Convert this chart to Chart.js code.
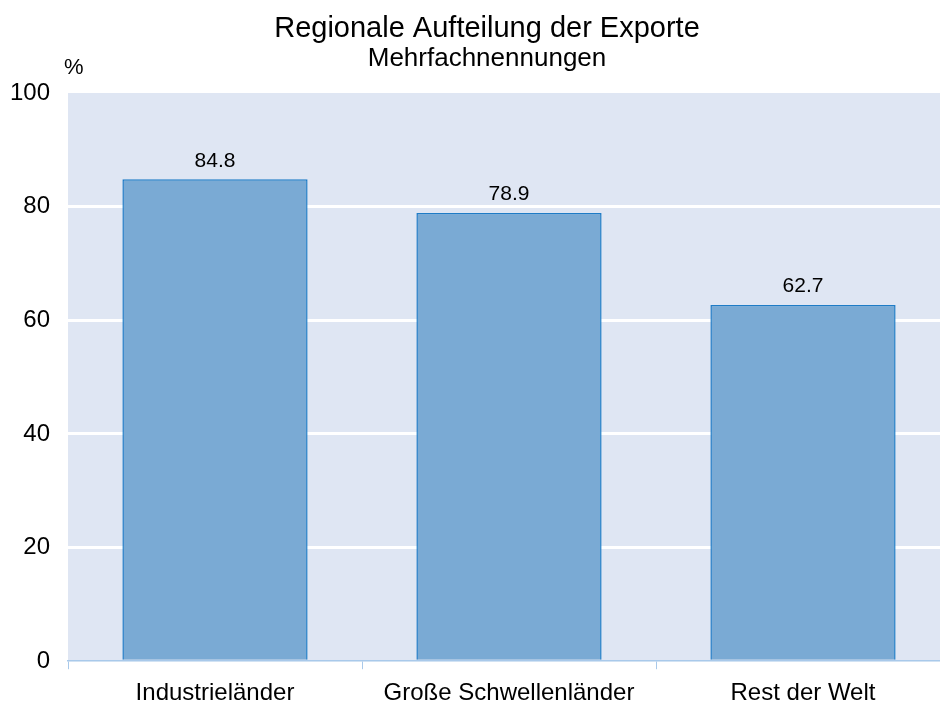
<!DOCTYPE html>
<html lang="de">
<head>
<meta charset="utf-8">
<title>Regionale Aufteilung der Exporte</title>
<script src="https://cdn.jsdelivr.net/npm/chart.js@4.4.1/dist/chart.umd.min.js"></script>
<style>
    html, body { margin: 0; padding: 0; background: #ffffff; overflow: hidden; }
    #wrap { width: 940px; height: 707px; overflow: hidden; }
</style>
</head>
<body>
<div id="wrap">
    <canvas id="exports" width="974" height="722"></canvas>
</div>
<script>
// Daten
var regions = ["Industrieländer", "Große Schwellenländer", "Rest der Welt"],
    shares = [84.8, 78.9, 62.7],
    yTicks = [0, 20, 40, 60, 80, 100];

var FONT = "'Liberation Sans', Arial, sans-serif",
    PLOT_BG = "#dfe6f3",
    BAR_FILL = "#7aaad4",
    BAR_EDGE = "#1f7cc6",
    AXIS_BLUE = "#a9c9ea";

// Hintergrund der Zeichenfläche
var plotBackground = {
    id: "plotBackground",
    beforeDraw(chart) {
        var ctx = chart.ctx, a = chart.chartArea;
        ctx.save();
        ctx.fillStyle = PLOT_BG;
        ctx.fillRect(a.left, a.top, a.right - a.left, a.bottom - a.top);
        ctx.restore();
    }
};

// Titel und Untertitel etwas nach rechts rücken
var titleShift = {
    id: "titleShift",
    afterLayout(chart) {
        chart.boxes.forEach(function (box) {
            if (!box.axis && box.options && typeof box.options.text === "string") {
                box.left += 8;
                box.right += 8;
            }
        });
    }
};

// Werte über den Balken und die Einheit an der y-Achse
var barLabels = {
    id: "barLabels",
    afterDatasetsDraw(chart) {
        var ctx = chart.ctx,
            a = chart.chartArea,
            meta = chart.getDatasetMeta(0),
            values = chart.data.datasets[0].data;
        ctx.save();
        ctx.fillStyle = "#000";
        ctx.font = "21px " + FONT;
        ctx.textAlign = "center";
        ctx.textBaseline = "bottom";
        meta.data.forEach(function (bar, i) {
            ctx.fillText(values[i].toFixed(1), bar.x, bar.y - 8);
        });
        ctx.font = "22px " + FONT;
        ctx.textAlign = "left";
        ctx.fillText("%", a.left - 4, a.top - 14);
        ctx.restore();
    }
};

new Chart(document.getElementById("exports"), {
    type: "bar",
    data: {
        labels: regions,
        datasets: [{
            data: shares,
            backgroundColor: BAR_FILL,
            borderColor: BAR_EDGE,
            borderWidth: 1.5,
            barPercentage: 0.63,
            categoryPercentage: 1
        }]
    },
    options: {
        responsive: false,
        animation: false,
        layout: { padding: { left: 8, right: 24, top: 0, bottom: 4 } },
        plugins: {
            legend: { display: false },
            tooltip: { enabled: false },
            title: {
                display: true,
                text: "Regionale Aufteilung der Exporte",
                color: "#000",
                font: { family: FONT, size: 29, weight: "normal" },
                padding: { top: 12, bottom: -4 }
            },
            subtitle: {
                display: true,
                text: "Mehrfachnennungen",
                color: "#000",
                font: { family: FONT, size: 26, weight: "normal" },
                padding: { top: 0, bottom: 19 }
            }
        },
        scales: {
            x: {
                grid: {
                    display: true,
                    offset: true,
                    drawOnChartArea: false,
                    drawTicks: true,
                    tickLength: 8,
                    color: AXIS_BLUE
                },
                border: { display: true, color: AXIS_BLUE, width: 1.5 },
                ticks: {
                    color: "#000",
                    font: { family: FONT, size: 24 },
                    padding: 10
                }
            },
            y: {
                min: 0,
                max: 100,
                afterBuildTicks(scale) {
                    scale.ticks = yTicks.map(function (v) { return { value: v }; });
                },
                afterFit(scale) {
                    scale.width = 60;
                },
                grid: {
                    drawTicks: false,
                    lineWidth: 3,
                    color(c) {
                        var v = c.tick ? c.tick.value : 0;
                        return (v > 0 && v < 100) ? "#ffffff" : "rgba(0,0,0,0)";
                    }
                },
                border: { display: false },
                ticks: {
                    color: "#000",
                    font: { family: FONT, size: 24 },
                    padding: 18
                }
            }
        }
    },
    plugins: [plotBackground, titleShift, barLabels]
});
</script>
</body>
</html>
